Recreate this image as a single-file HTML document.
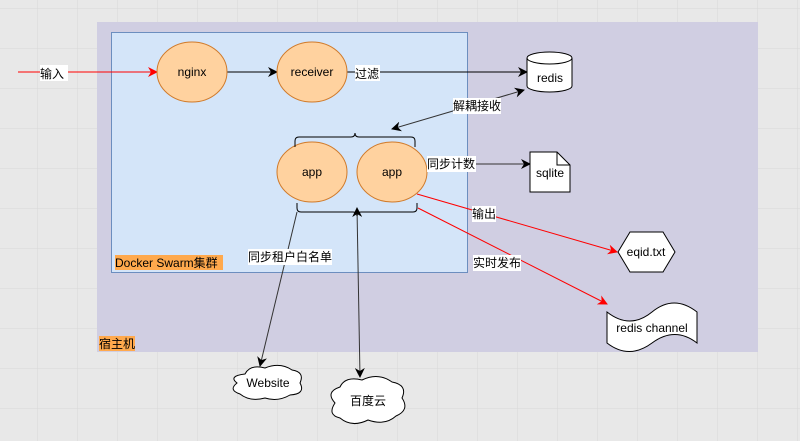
<!DOCTYPE html>
<html><head><meta charset="utf-8"><style>
body{margin:0;width:800px;height:441px;overflow:hidden;background:#e8e8e8;}
svg{display:block}
text{font-family:"Liberation Sans","Noto Sans CJK SC",sans-serif;font-size:12px;}
</style></head><body>
<svg width="800" height="441" xmlns="http://www.w3.org/2000/svg">
<defs>
<pattern id="g" x="37" y="8" width="40" height="40" patternUnits="userSpaceOnUse">
<path d="M0 0H40M0 0V40" stroke="#d8d8d8" stroke-width="1" fill="none"/></pattern>
<marker id="ab" markerWidth="10" markerHeight="10" refX="9" refY="5" orient="auto" markerUnits="userSpaceOnUse"><path d="M0 0L10 5L0 10L3 5Z" fill="#000"/></marker>
<marker id="abs" markerWidth="10" markerHeight="10" refX="1" refY="5" orient="auto" markerUnits="userSpaceOnUse"><path d="M10 0L0 5L10 10L7 5Z" fill="#000"/></marker>
<marker id="ar" markerWidth="10" markerHeight="10" refX="9" refY="5" orient="auto" markerUnits="userSpaceOnUse"><path d="M0 0L10 5L0 10L3 5Z" fill="#f00"/></marker>
</defs>
<rect width="800" height="441" fill="url(#g)"/>
<rect x="97" y="22" width="661" height="330" fill="#d0cee2"/>
<rect x="111.5" y="32.5" width="356" height="240" fill="#d4e5f9" stroke="#6c8ebf"/>
<!-- edges -->
<line x1="18" y1="72" x2="157" y2="72" stroke="#f00" marker-end="url(#ar)"/>
<line x1="227" y1="72" x2="277" y2="72" stroke="#000" marker-end="url(#ab)"/>
<line x1="347" y1="72" x2="527" y2="72" stroke="#000" marker-end="url(#ab)"/>
<line x1="392" y1="129" x2="524" y2="90" stroke="#333" marker-start="url(#abs)" marker-end="url(#ab)"/>
<line x1="427" y1="164" x2="530" y2="164" stroke="#333" marker-end="url(#ab)"/>
<line x1="417" y1="194" x2="617" y2="252" stroke="#f00" marker-end="url(#ar)"/>
<line x1="418" y1="208" x2="607" y2="304" stroke="#f00" marker-end="url(#ar)"/>
<line x1="297" y1="212" x2="260" y2="366" stroke="#333" marker-end="url(#ab)"/>
<line x1="357" y1="208" x2="360" y2="377" stroke="#333" marker-start="url(#abs)" marker-end="url(#ab)"/>
<!-- nodes -->
<g fill="#ffd29f" stroke="#d07a2a">
<ellipse cx="192" cy="72" rx="35" ry="30"/>
<ellipse cx="312" cy="72" rx="35" ry="30"/>
<ellipse cx="312" cy="172" rx="35" ry="30"/>
<ellipse cx="392" cy="172" rx="35" ry="30"/>
</g>
<path d="M295 147V141Q295 137 299 137H351Q355 137 355 133Q355 137 359 137H411Q415 137 415 141V147" fill="none" stroke="#000"/>
<path d="M297 203V208Q297 212 301 212H353Q357 212 357 216Q357 212 361 212H413Q417 212 417 208V203" fill="none" stroke="#000"/>
<g fill="#fff" stroke="#000">
<path d="M527 58V86A22.5 6 0 0 0 572 86V58A22.5 6 0 0 0 527 58A22.5 6 0 0 0 572 58"/>
<path d="M530 152H557L570 165V192H530Z"/><path d="M557 152V165H570" fill="none"/>
<path d="M630 232H663L675 252L663 272H630L618 252Z"/>
<path d="M607 312Q630 330 652 312T697 312V343Q675 326 652 343T607 343Z"/>
<path d="M245 374Q250 364 265 368Q280 362 292 370Q305 372 300 383Q306 394 290 395Q278 402 265 398Q250 402 240 394Q228 390 237 383Q228 376 245 374Z"/>
<path d="M340 387Q345 376 362 380Q378 372 392 382Q408 385 402 398Q410 410 396 416Q385 426 368 420Q352 428 340 418Q327 415 335 403Q325 392 340 387Z"/>
</g>
<!-- node text -->
<g text-anchor="middle" fill="#000">
<text x="192" y="76">nginx</text><text x="312" y="76">receiver</text>
<text x="312" y="176">app</text><text x="392" y="176">app</text>
<text x="550" y="82">redis</text><text x="550" y="177">sqlite</text>
<text x="646" y="256">eqid.txt</text><text x="652" y="332">redis channel</text>
<text x="268" y="387">Website</text><text x="368" y="405">百度云</text>
</g>
<!-- labels -->
<g fill="#fff"><rect x="40" y="65" width="28" height="16"/><rect x="355" y="65" width="25" height="16"/>
<rect x="453" y="98" width="48" height="16"/><rect x="427" y="156" width="49" height="16"/>
<rect x="472" y="206" width="24" height="16"/><rect x="473" y="255" width="48" height="16"/>
<rect x="248" y="249" width="84" height="16"/></g>
<rect x="115" y="255" width="108" height="15" fill="#ffa94d"/>
<rect x="99" y="336" width="36" height="15" fill="#ffa94d"/>
<g fill="#000">
<text x="40" y="78">输入</text><text x="355" y="78">过滤</text>
<text x="453" y="110">解耦接收</text><text x="427" y="168">同步计数</text>
<text x="472" y="218">输出</text><text x="473" y="267">实时发布</text>
<text x="248" y="261">同步租户白名单</text>
<text x="115" y="267">Docker Swarm集群</text><text x="99" y="348">宿主机</text>
</g>
</svg>
</body></html>
